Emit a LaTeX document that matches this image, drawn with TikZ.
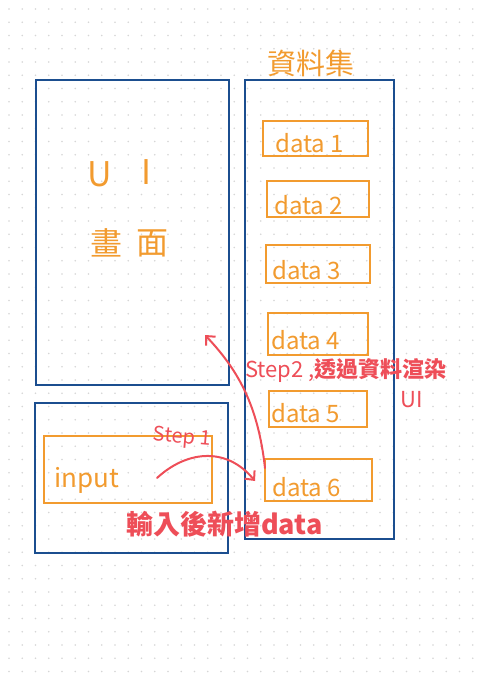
\documentclass[tikz,border=0pt]{standalone}
\usepackage{fontspec}
\setmainfont{Noto Sans CJK TC}
\usetikzlibrary{arrows.meta}
\definecolor{hblue}{HTML}{1B4E8F}
\definecolor{horange}{HTML}{F29B2F}
\definecolor{hred}{HTML}{EE4E58}
\definecolor{hdot}{HTML}{D6D6D6}
\tikzset{
  bluebox/.style={draw=hblue, line width=2pt, inner sep=0pt, outer sep=0pt},
  databox/.style={draw=horange, line width=2pt, inner sep=0pt, outer sep=0pt},
  otext/.style={text=horange, inner sep=0pt, font=\fontsize{24}{24}\selectfont},
  rtext/.style={text=hred, inner sep=0pt},
  redarrow/.style={draw=hred, line width=2pt, line cap=round, -{Straight Barb[length=7pt,width=13pt,line width=2pt]}},
}
\begin{document}
\begin{tikzpicture}[x=1pt,y=-1pt]
\useasboundingbox (0,0) rectangle (477,675);
\fill[white] (0,0) rectangle (477,675);
% dot grid
\foreach \i in {0,...,35}{
  \foreach \j in {0,...,50}{
    \fill[hdot] (9+13.25*\i, 9+13.25*\j) circle (0.8pt);
  }
}
% blue boxes
\node[bluebox, minimum width=193pt, minimum height=305pt] (uibox) at (132.5,232.5) {};
\node[bluebox, minimum width=193pt, minimum height=150pt] (inbox) at (131.5,478) {};
\node[bluebox, minimum width=149pt, minimum height=459pt] (setbox) at (319.5,309.5) {};
% UI texts
\node[otext, font=\fontsize{34}{34}\selectfont] (u) at (100,174) {U};
\node[otext, font=\fontsize{34}{34}\selectfont] (i) at (146,172) {I};
\node[otext, font=\fontsize{32}{32}\selectfont] (hua) at (106,243) {畫};
\node[otext, font=\fontsize{32}{32}\selectfont] (mian) at (152,243) {面};
\node[otext, font=\fontsize{29}{29}\selectfont] (dataset) at (311,63) {資料集};
% data boxes
\node[databox, minimum width=105pt, minimum height=35pt] (b1) at (315.5,138.5) {};
\node[otext, anchor=west] (d1) at (275,143) {data 1};
\node[databox, minimum width=102pt, minimum height=36pt] (b2) at (318,199) {};
\node[otext, anchor=west] (d2) at (274,205) {data 2};
\node[databox, minimum width=104pt, minimum height=38pt] (b3) at (318,264) {};
\node[otext, anchor=west] (d3) at (272,270) {data 3};
\node[databox, minimum width=100pt, minimum height=42pt] (b4) at (318,334) {};
\node[otext, anchor=west] (d4) at (271,340) {data 4};
\node[databox, minimum width=98pt, minimum height=36pt] (b5) at (318,409) {};
\node[otext, anchor=west] (d5) at (271,413) {data 5};
\node[databox, minimum width=107pt, minimum height=42pt] (b6) at (318.5,480) {};
\node[otext, anchor=west] (d6) at (272,487) {data 6};
% input
\node[databox, minimum width=168pt, minimum height=67pt] (inbx) at (128,469.5) {};
\node[otext, anchor=west, font=\fontsize{26}{26}\selectfont] (inp) at (54,480) {input};
% red labels
\node[rtext, font=\fontsize{20}{20}\selectfont, rotate=-5] (s1) at (182,438) {Step 1};
\node[rtext, anchor=west, font=\bfseries\fontsize{27}{27}\selectfont] (add) at (126,524) {輸入後新增data};
\node[rtext, anchor=west, font=\fontsize{22}{22}\selectfont] (s2) at (245,371) {Step2 ,\textbf{透過資料渲染}};
\node[rtext, font=\fontsize{22}{22}\selectfont] (s2b) at (412,400) {UI};
% arrows
\coordinate (a1s) at (157,478);
\coordinate (a2e) at (205,335);
\draw[redarrow] (a1s) .. controls (185,452) and (225,445) .. ([xshift=-10pt,yshift=-1pt]b6.west);
\draw[redarrow] ([yshift=-9pt]b6.north west) .. controls (258,405) and (238,370) .. (a2e);
\end{tikzpicture}
\end{document}
